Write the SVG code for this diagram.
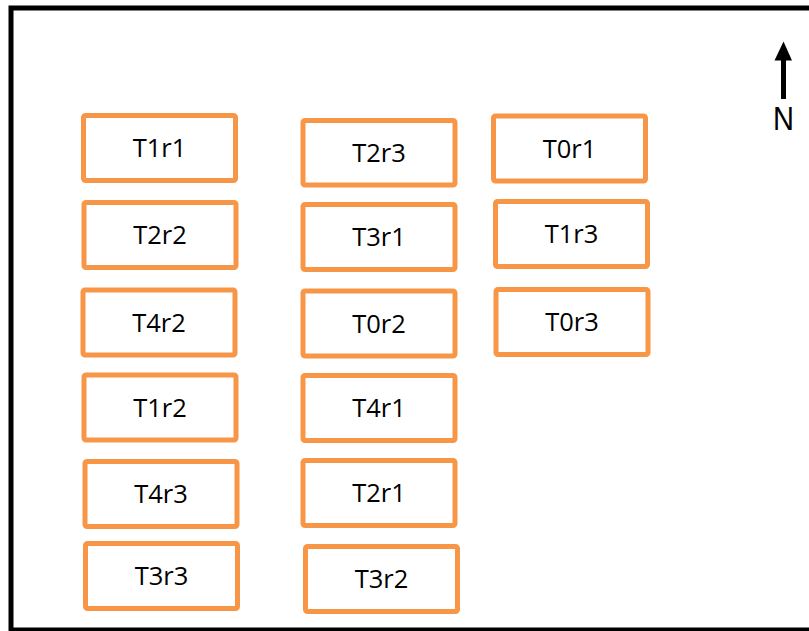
<svg xmlns="http://www.w3.org/2000/svg" width="809" height="631" viewBox="0 0 809 631">
<defs>
<style>
.box rect{fill:#fff;stroke:#F79646;stroke-width:5}
.box text{font-family:"Open Sans","Liberation Sans",sans-serif;font-size:25.5px;fill:#000;text-anchor:middle}
</style>
</defs>
<rect x="0" y="0" width="809" height="631" fill="#fff"/>
<rect x="11" y="8" width="820" height="622" fill="none" stroke="#000" stroke-width="5"/>
<g id="north">
<line x1="783.5" y1="58" x2="783.5" y2="99" stroke="#000" stroke-width="5"/>
<polygon points="774.5,60.5 783.5,41.5 792,60.5" fill="#000"/>
<text x="783.5" y="130.5" font-family="Liberation Sans, Arial, sans-serif" font-size="33" text-anchor="middle" transform="translate(783.5 0) scale(0.88 1) translate(-783.5 0)">N</text>
</g>
<g id="connectors"></g>
<g id="T1r1" class="box"><rect x="83.5" y="115.5" width="152" height="65" rx="2"/><text x="159.5" y="157">T1r1</text></g>
<g id="T2r2" class="box"><rect x="84" y="202.5" width="152" height="65" rx="2"/><text x="160" y="244">T2r2</text></g>
<g id="T4r2" class="box"><rect x="83" y="290" width="152" height="65" rx="2"/><text x="159" y="331.5">T4r2</text></g>
<g id="T1r2" class="box"><rect x="84" y="375" width="152" height="65" rx="2"/><text x="160" y="416.5">T1r2</text></g>
<g id="T4r3" class="box"><rect x="85" y="461.5" width="152" height="65" rx="2"/><text x="161" y="503">T4r3</text></g>
<g id="T3r3" class="box"><rect x="85.5" y="543.5" width="152" height="65" rx="2"/><text x="161.5" y="585">T3r3</text></g>
<g id="T2r3" class="box"><rect x="303" y="120.5" width="152" height="64.5" rx="2"/><text x="379" y="161.5">T2r3</text></g>
<g id="T3r1" class="box"><rect x="303" y="204.5" width="152" height="65" rx="2"/><text x="379" y="246">T3r1</text></g>
<g id="T0r2" class="box"><rect x="303" y="291" width="152" height="65" rx="2"/><text x="379" y="332.5">T0r2</text></g>
<g id="T4r1" class="box"><rect x="303" y="375.5" width="152" height="65" rx="2"/><text x="379" y="417">T4r1</text></g>
<g id="T2r1" class="box"><rect x="303" y="460.5" width="152" height="65" rx="2"/><text x="379" y="502">T2r1</text></g>
<g id="T3r2" class="box"><rect x="305.5" y="546.5" width="152" height="65" rx="2"/><text x="381.5" y="588">T3r2</text></g>
<g id="T0r1" class="box"><rect x="493.5" y="116" width="152" height="65" rx="2"/><text x="569.5" y="157.5">T0r1</text></g>
<g id="T1r3" class="box"><rect x="495.5" y="201.5" width="152" height="65" rx="2"/><text x="571.5" y="243">T1r3</text></g>
<g id="T0r3" class="box"><rect x="496" y="289.5" width="152" height="65" rx="2"/><text x="572" y="331">T0r3</text></g>
</svg>
